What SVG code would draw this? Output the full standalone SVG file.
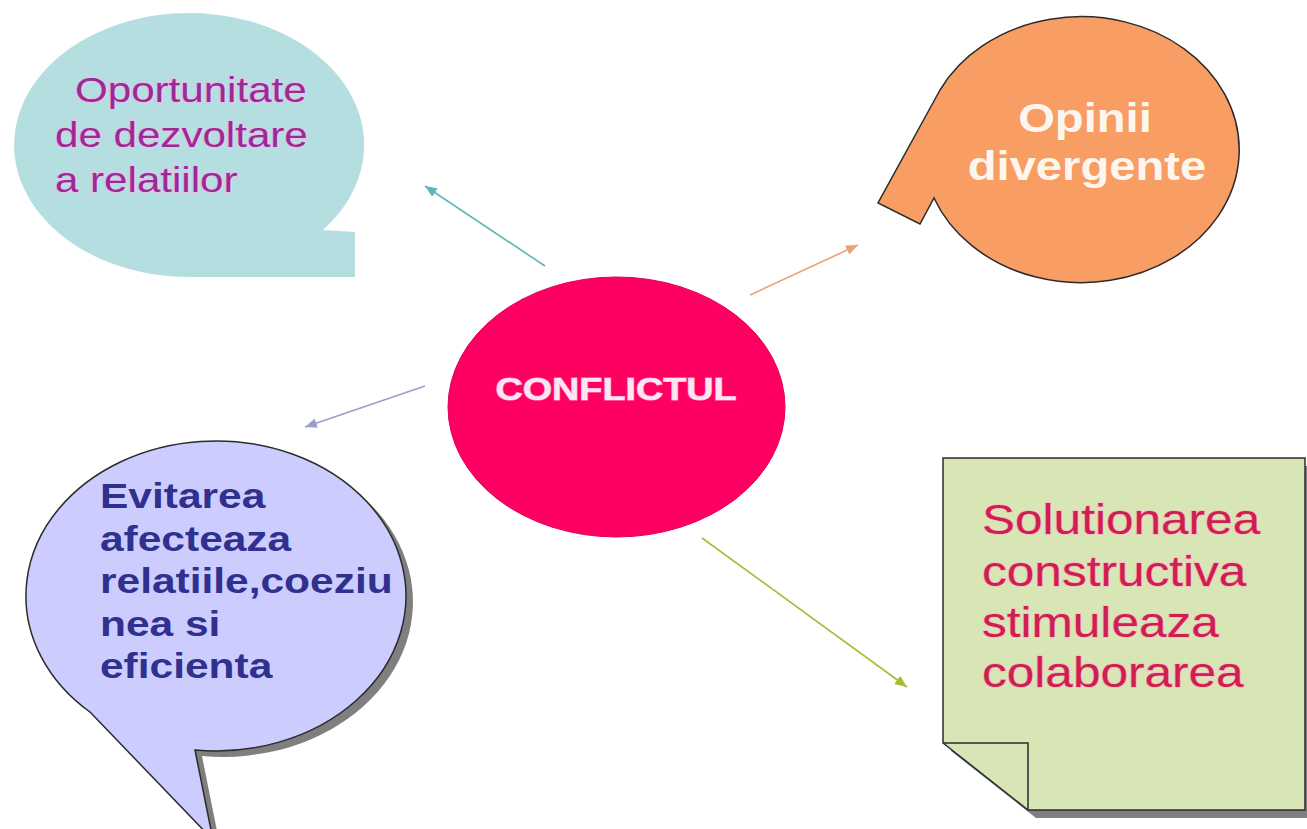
<svg xmlns="http://www.w3.org/2000/svg" width="1307" height="829" viewBox="0 0 1307 829">
<style>
.sans{font-family:"Liberation Sans",Arial,sans-serif}
.bold{font-weight:bold}
.edge{stroke:#2b2b2b;stroke-width:1.5;stroke-linejoin:miter}
.conn{fill:none;stroke-width:1.6}
.t-teal{fill:#9a2b94;font-size:36px;stroke:#f3b8ee;stroke-width:1.5;paint-order:stroke}
.t-orange{fill:#fdf6ee;font-size:40px}
.t-center{fill:#fde6f2;font-size:32px;stroke:#ff8fc0;stroke-width:1.2;paint-order:stroke}
.t-purple{fill:#30308e;font-size:36px}
.t-green{fill:#cf1f4e;font-size:42px;stroke:#f6b8c8;stroke-width:1.5;paint-order:stroke}
</style>
<defs>
<marker id="ah-teal" markerUnits="userSpaceOnUse" markerWidth="13" markerHeight="10" refX="12" refY="5" orient="auto"><path d="M0,0 L12,5 L0,10 Z" fill="#5db7b4"/></marker>
<marker id="ah-orange" markerUnits="userSpaceOnUse" markerWidth="13" markerHeight="10" refX="12" refY="5" orient="auto"><path d="M0,0 L12,5 L0,10 Z" fill="#e9a378"/></marker>
<marker id="ah-purple" markerUnits="userSpaceOnUse" markerWidth="13" markerHeight="10" refX="12" refY="5" orient="auto"><path d="M0,0 L12,5 L0,10 Z" fill="#9c9cd2"/></marker>
<marker id="ah-green" markerUnits="userSpaceOnUse" markerWidth="13" markerHeight="10" refX="12" refY="5" orient="auto"><path d="M0,0 L12,5 L0,10 Z" fill="#a3bd3a"/></marker>
</defs>
<rect width="1307" height="829" fill="#ffffff"/>

<g id="connectors">
<line class="conn" x1="545" y1="266" x2="425" y2="186" stroke="#5db7b4" marker-end="url(#ah-teal)"/>
<line class="conn" x1="750" y1="295" x2="858" y2="245" stroke="#e9a378" marker-end="url(#ah-orange)"/>
<line class="conn" x1="425" y1="386" x2="305" y2="427" stroke="#9c9cd2" marker-end="url(#ah-purple)"/>
<line class="conn" x1="702" y1="538" x2="907" y2="687" stroke="#a3bd3a" marker-end="url(#ah-green)"/>
</g>

<g id="node-oportunitate">
<path d="M188,277 A175,132 0 1 1 323,230 L355,232 L355,277 Z" fill="#b5dee1"/>
<g class="sans t-teal" transform="translate(75,102) scale(1.17,1)">
<text x="0" y="0">Oportunitate</text>
</g>
<g class="sans t-teal" transform="translate(55,147) scale(1.17,1)">
<text x="0" y="0">de dezvoltare</text>
</g>
<g class="sans t-teal" transform="translate(55,192) scale(1.17,1)">
<text x="0" y="0">a relatiilor</text>
</g>
</g>

<g id="node-opinii">
<path class="edge" d="M940,90 A158,133 0 1 1 934,198 L920,224 L878,203 Z" fill="#f89d64"/>
<g transform="translate(1085,132) scale(1.18,1)"><text class="sans bold t-orange" x="0" y="0" text-anchor="middle">Opinii</text></g>
<g transform="translate(1087,180) scale(1.18,1)"><text class="sans bold t-orange" x="0" y="0" text-anchor="middle">divergente</text></g>
</g>

<g id="node-conflictul">
<ellipse cx="616.5" cy="407" rx="168.5" ry="130" fill="#fe0062" stroke="#e0005a" stroke-width="1"/>
<g transform="translate(616,400) scale(1.18,1)"><text class="sans bold t-center" x="0" y="0" text-anchor="middle">CONFLICTUL</text></g>
</g>

<g id="node-evitarea">
<path transform="translate(7,6)" d="M90,712 L213,840 L195,750 A190,155 0 1 0 90,712 Z" fill="#7f7f7f"/>
<path class="edge" d="M90,712 L213,840 L195,750 A190,155 0 1 0 90,712 Z" fill="#ccccff"/>
<g transform="translate(100,508) scale(1.18,1)"><text class="sans bold t-purple" x="0" y="0">Evitarea</text></g>
<g transform="translate(100,550.6) scale(1.18,1)"><text class="sans bold t-purple" x="0" y="0">afecteaza</text></g>
<g transform="translate(100,593.2) scale(1.18,1)"><text class="sans bold t-purple" x="0" y="0">relatiile,coeziu</text></g>
<g transform="translate(100,635.8) scale(1.18,1)"><text class="sans bold t-purple" x="0" y="0">nea si</text></g>
<g transform="translate(100,678.4) scale(1.18,1)"><text class="sans bold t-purple" x="0" y="0">eficienta</text></g>
</g>

<g id="node-solutionarea">
<path transform="translate(8,8)" d="M943,458 L1305,458 L1305,810 L1028,810 L943,743 Z" fill="#7f7f7f"/>
<path class="edge" d="M943,458 L1305,458 L1305,810 L1028,810 L943,743 Z" fill="#d8e5b5"/>
<path class="edge" d="M943,743 L1028,743 L1028,810" fill="none"/>
<g transform="translate(982,534) scale(1.18,1)"><text class="sans t-green" x="0" y="0">Solutionarea</text></g>
<g transform="translate(982,586) scale(1.18,1)"><text class="sans t-green" x="0" y="0">constructiva</text></g>
<g transform="translate(982,637) scale(1.18,1)"><text class="sans t-green" x="0" y="0">stimuleaza</text></g>
<g transform="translate(982,687) scale(1.18,1)"><text class="sans t-green" x="0" y="0">colaborarea</text></g>
</g>
</svg>
